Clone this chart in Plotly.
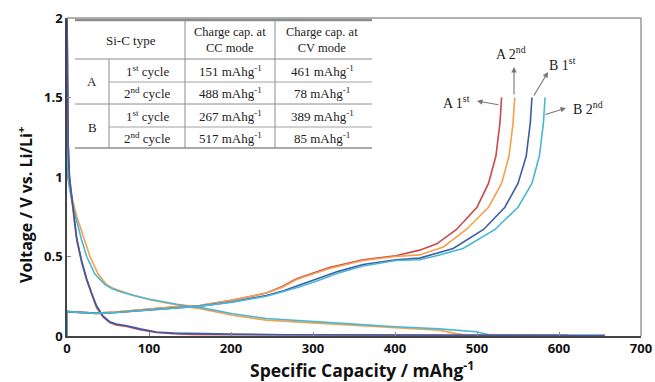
import plotly.graph_objects as go

# ---------------- data ----------------
# discharge (lithiation) curves
a1_dis_x = [0, 0.5, 1.5, 3, 6, 9, 12, 18, 24, 30, 36, 44, 52, 60, 73, 89, 109, 130, 151, 200, 300, 400, 500, 612]
a1_dis_y = [2.05, 1.6, 1.2, 1.0, 0.85, 0.72, 0.6, 0.46, 0.35, 0.26, 0.18, 0.12, 0.085, 0.07, 0.06, 0.04, 0.022, 0.015, 0.01, 0.008, 0.006, 0.005, 0.005, 0.005]
b1_dis_x = [0, 0.5, 1.5, 3, 6, 9, 12, 18, 24, 30, 36, 44, 52, 60, 73, 89, 109, 130, 160, 200, 267, 350, 450, 550, 656]
b1_dis_y = [2.05, 1.6, 1.2, 1.0, 0.86, 0.73, 0.61, 0.47, 0.36, 0.27, 0.19, 0.125, 0.09, 0.075, 0.065, 0.045, 0.025, 0.018, 0.014, 0.012, 0.008, 0.006, 0.005, 0.005, 0.005]
a2_dis_x = [0, 1, 3, 7, 12, 20, 28, 38, 48, 56, 64, 80, 101, 134, 162, 202, 243, 284, 340, 401, 454, 475, 488, 566]
a2_dis_y = [1.3, 1.0, 0.95, 0.85, 0.75, 0.62, 0.5, 0.39, 0.325, 0.3, 0.285, 0.258, 0.228, 0.195, 0.172, 0.13, 0.1, 0.088, 0.07, 0.052, 0.036, 0.015, 0.005, 0.005]
b2_dis_x = [0, 1, 3, 7, 12, 18, 24, 34, 46, 54, 62, 80, 101, 134, 162, 202, 243, 284, 340, 401, 454, 499, 511, 517, 602]
b2_dis_y = [1.3, 1.0, 0.93, 0.82, 0.72, 0.6, 0.5, 0.39, 0.325, 0.3, 0.283, 0.256, 0.231, 0.2, 0.18, 0.14, 0.11, 0.095, 0.078, 0.058, 0.045, 0.027, 0.012, 0.005, 0.005]

# charge (delithiation) curves
a1_chg_x = [0, 0, 10, 36, 60, 89, 129, 162, 202, 243, 262, 280, 320, 361, 401, 430, 451, 475, 500, 514, 523, 528, 530]
a1_chg_y = [0, 0.15, 0.15, 0.145, 0.15, 0.163, 0.182, 0.192, 0.226, 0.27, 0.31, 0.36, 0.43, 0.48, 0.505, 0.54, 0.58, 0.67, 0.81, 0.96, 1.13, 1.34, 1.5]
a2_chg_x = [0, 0, 10, 36, 60, 89, 129, 162, 202, 243, 262, 280, 320, 361, 401, 430, 459, 487, 514, 530, 539, 544, 546]
a2_chg_y = [0, 0.15, 0.15, 0.145, 0.15, 0.163, 0.182, 0.192, 0.226, 0.27, 0.305, 0.355, 0.425, 0.475, 0.5, 0.51, 0.56, 0.67, 0.81, 0.96, 1.13, 1.34, 1.5]
b1_chg_x = [0, 0, 10, 36, 60, 89, 129, 162, 202, 243, 264, 284, 304, 330, 361, 401, 430, 471, 508, 534, 550, 560, 565, 567]
b1_chg_y = [0, 0.155, 0.15, 0.142, 0.148, 0.16, 0.178, 0.188, 0.215, 0.255, 0.285, 0.32, 0.355, 0.405, 0.45, 0.48, 0.49, 0.55, 0.67, 0.81, 0.96, 1.13, 1.34, 1.5]
b2_chg_x = [0, 0, 10, 36, 60, 89, 129, 162, 202, 243, 264, 284, 304, 330, 361, 401, 430, 447, 483, 522, 550, 567, 576, 581, 583]
b2_chg_y = [0, 0.155, 0.15, 0.142, 0.148, 0.16, 0.178, 0.188, 0.213, 0.25, 0.28, 0.31, 0.345, 0.395, 0.44, 0.475, 0.48, 0.5, 0.55, 0.67, 0.81, 0.96, 1.13, 1.34, 1.5]

x_ticks = [0, 100, 200, 300, 400, 500, 600, 700]
y_ticks = [0, 0.5, 1, 1.5, 2]
y_tick_labels = ["0", "0.5", "1", "1.5", "2"]

table_header = ["Si-C type", "Charge cap. at<br>CC mode", "Charge cap. at<br>CV mode"]
table_types = ["A", "B"]
table_cycles = ["1<sup>st</sup> cycle", "2<sup>nd</sup> cycle", "1<sup>st</sup> cycle", "2<sup>nd</sup> cycle"]
table_cc = [151, 488, 267, 517]
table_cv = [461, 78, 389, 85]

RED = "#cc474d"
ORANGE = "#f6a04c"
BLUE = "#3b5ca6"
CYAN = "#4ab6d5"

# ---------------- geometry helpers (layout only) ----------------
W, H = 655, 382
L, R, T, B = 67, 641, 18, 336
XMAX, YMAX = 700, 2.0


def px2x(px):
    return (px - L) / (R - L) * XMAX


def py2y(py):
    return (B - py) / (B - T) * YMAX


def px2p(px):
    return (px - L) / (R - L)


def py2p(py):
    return (B - py) / (B - T)


fig = go.Figure()

series = [
    (a2_dis_x, a2_dis_y, ORANGE),
    (b2_dis_x, b2_dis_y, CYAN),
    (a1_dis_x, a1_dis_y, RED),
    (b1_dis_x, b1_dis_y, BLUE),
    (a1_chg_x, a1_chg_y, RED),
    (a2_chg_x, a2_chg_y, ORANGE),
    (b1_chg_x, b1_chg_y, BLUE),
    (b2_chg_x, b2_chg_y, CYAN),
]
for xs, ys, c in series:
    fig.add_trace(go.Scatter(x=xs, y=ys, mode="lines", line=dict(color=c, width=1.6),
                             showlegend=False, hoverinfo="skip"))

shapes = []
# top and right frame (gray)
shapes.append(dict(type="line", xref="paper", yref="paper", x0=0, x1=1, y0=1, y1=1, line=dict(color="#9a9a9a", width=1.5)))
shapes.append(dict(type="line", xref="paper", yref="paper", x0=1, x1=1, y0=0, y1=1, line=dict(color="#9a9a9a", width=1.5)))

# table lines
TC = "#8c8c8c"
TL, TR = 75, 372


def hline(py, x0, x1, w=1):
    shapes.append(dict(type="line", xref="paper", yref="paper", x0=px2p(x0), x1=px2p(x1), y0=py2p(py), y1=py2p(py),
                       line=dict(color=TC, width=w)))


def vline(px, y0, y1, w=1):
    shapes.append(dict(type="line", xref="paper", yref="paper", x0=px2p(px), x1=px2p(px), y0=py2p(y0), y1=py2p(y1),
                       line=dict(color=TC, width=w)))


hline(20, TL, TR, 2.5)
hline(59, TL, TR, 1)
hline(82, 109, TR, 0.8)
hline(104, TL, TR, 1)
hline(127, 109, TR, 0.8)
hline(148, TL, TR, 1.5)
vline(109, 59, 148)
vline(185, 20, 148)
vline(275, 20, 148)

annotations = []
SERIF = "Liberation Serif"


def txt(px, py, s, size=12.5, family=SERIF, color="#222"):
    annotations.append(dict(x=px2p(px), y=py2p(py), xref="paper", yref="paper", text=s, showarrow=False,
                            font=dict(family=family, size=size, color=color), xanchor="center", yanchor="middle"))


txt(131, 40, table_header[0], size=13)
txt(230, 40, table_header[1])
txt(322, 40, table_header[2])
txt(92, 82, table_types[0], size=13)
txt(92, 127, table_types[1], size=13)
row_y = [71, 93, 116, 138]
for i in range(4):
    txt(147, row_y[i], table_cycles[i], size=13)
    txt(230, row_y[i], f"{table_cc[i]} mAhg<sup>-1</sup>", size=13)
    txt(322, row_y[i], f"{table_cv[i]} mAhg<sup>-1</sup>", size=13)

# curve labels
txt(456, 102, "A 1<sup>st</sup>", size=14)
txt(511, 53, "A 2<sup>nd</sup>", size=14)
txt(562, 64, "B 1<sup>st</sup>", size=14)
txt(588, 108, "B 2<sup>nd</sup>", size=14)


def arrow(hx, hy, tx, ty):
    annotations.append(dict(x=px2x(hx), y=py2y(hy), ax=px2x(tx), ay=py2y(ty), xref="x", yref="y", axref="x", ayref="y",
                            text="", showarrow=True, arrowhead=2, arrowsize=1, arrowwidth=1.1, arrowcolor="#777"))


arrow(477, 101, 500, 105)
arrow(514, 67, 514, 96)
arrow(548, 72, 533, 97)
arrow(566, 108, 544, 115)

# axis titles
annotations.append(dict(x=px2p(362), y=0, xref="paper", yref="paper", yshift=-33, text="Specific Capacity / mAhg<sup>-1</sup>",
                        showarrow=False, font=dict(family="Open Sans", size=17.5, color="#111", weight="bold"),
                        xanchor="center", yanchor="middle"))
annotations.append(dict(x=px2p(25), y=py2p(205), xref="paper", yref="paper", text="Voltage / V vs. Li/Li<sup>+</sup>",
                        showarrow=False, textangle=-90, font=dict(family="Open Sans", size=16, color="#111", weight="bold"),
                        xanchor="center", yanchor="middle"))

fig.update_layout(
    width=W, height=H,
    margin=dict(l=L, r=W - R, t=T, b=H - B, autoexpand=False),
    paper_bgcolor="white", plot_bgcolor="white",
    shapes=shapes, annotations=annotations,
    font=dict(family="Open Sans", color="#111"),
    xaxis=dict(range=[0, XMAX], tickvals=x_ticks, ticktext=[str(v) for v in x_ticks], showgrid=False, zeroline=False,
               automargin=False,
               showline=True, linecolor="#444", linewidth=1.5, ticks="inside", ticklen=4, tickcolor="#888",
               tickfont=dict(family="Open Sans", size=13, color="#111", weight="bold")),
    yaxis=dict(range=[0, YMAX], tickvals=y_ticks, ticktext=y_tick_labels, showgrid=False, zeroline=False,
               automargin=False,
               showline=True, linecolor="#444", linewidth=1.5, ticks="inside", ticklen=4, tickcolor="#888",
               tickfont=dict(family="Open Sans", size=13, color="#111", weight="bold")),
)

fig.write_html("out.html")
